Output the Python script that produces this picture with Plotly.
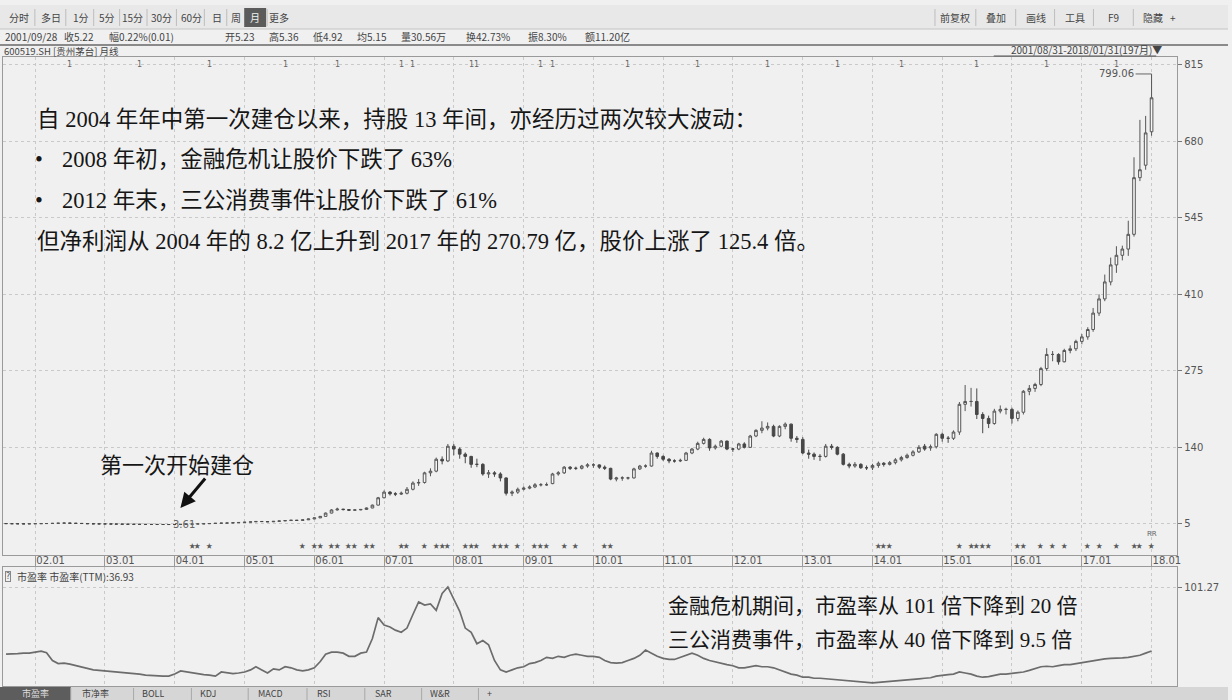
import pandas as pd
import plotly.graph_objects as go

W, H = 1232, 700

# ---- monthly bars of 600519.SH (forward adjusted), 2001-08 .. 2018-01
months = pd.date_range("2001-08-01", "2018-01-01", freq="MS")

opens = [
    5.60, 5.23, 5.20, 5.05, 4.92,
    5.10, 5.30, 5.45, 5.60, 5.90, 6.20, 6.45, 6.10, 5.80, 5.55, 5.20, 4.95,
    4.90, 4.80, 4.70, 4.55, 4.40, 4.30, 4.20, 4.10, 4.00, 3.95, 3.90, 3.85,
    3.80, 3.80, 4.10, 4.40, 4.70, 4.90, 5.20, 5.60, 6.00, 6.30, 6.50, 7.00,
    7.40, 7.90, 8.50, 9.20, 9.00, 8.60, 9.40, 10.1, 10.8, 11.4, 11.0, 12.1,
    13.6, 15.5, 18.2, 24.0, 29.5, 31.0, 30.2, 29.0, 29.6, 30.4, 33.0, 38.0,
    51, 61, 58, 57.5, 59, 66, 77, 78, 95, 98, 119, 116,
    142, 137, 128, 124, 110, 110, 93, 95, 93, 86, 59, 61,
    66, 68, 70, 74, 74, 76, 93, 95, 105, 103, 103, 107,
    109, 109, 105, 103, 84, 86, 86, 86, 102, 107, 107, 130,
    124, 119, 116, 116, 117, 130, 137, 147, 154, 139, 142, 151,
    137, 137, 146, 140, 160, 170, 174, 177, 160, 177, 181, 156,
    154, 130, 128, 124, 124, 142, 140, 128, 110, 107, 110, 104,
    104, 108, 112, 110, 113, 118, 122, 126, 132, 142, 139, 141,
    163, 156, 156, 167, 216, 221, 221, 198, 191, 182, 204, 207,
    207, 191, 202, 239, 244, 251, 279, 304, 304, 291, 311, 314,
    327, 335, 348, 377, 402, 432, 462, 479, 490, 516, 616, 638,
    697,
]
highs = [
    5.90, 5.36, 5.30, 5.10, 5.20,
    5.40, 5.60, 5.75, 6.00, 6.35, 6.70, 6.50, 6.20, 5.85, 5.60, 5.25, 5.05,
    5.00, 4.90, 4.80, 4.65, 4.50, 4.40, 4.30, 4.20, 4.10, 4.05, 4.00, 3.95,
    3.95, 4.20, 4.55, 4.85, 5.05, 5.35, 5.75, 6.15, 6.50, 6.70, 7.20, 7.60,
    8.10, 8.70, 9.50, 9.40, 9.10, 9.60, 10.3, 11.0, 11.7, 11.6, 12.3, 13.9,
    16.0, 18.8, 25.0, 31.0, 33.5, 31.5, 30.8, 30.5, 31.2, 33.8, 39.0, 52.5,
    64, 63, 61, 62, 70, 80, 84, 97, 103, 122, 124, 146,
    146, 140, 131, 125, 120, 112, 100, 98, 96, 87, 64, 69,
    71, 73, 77, 77, 78, 95, 98, 107, 107, 106, 109, 112,
    112, 110, 108, 104, 88, 89, 88, 104, 109, 110, 134, 131,
    126, 121, 119, 120, 132, 139, 150, 157, 156, 145, 153, 152,
    139, 148, 149, 162, 172, 186, 184, 180, 179, 184, 182, 160,
    158, 136, 131, 128, 146, 146, 142, 130, 113, 114, 112, 108,
    111, 115, 114, 116, 121, 125, 129, 135, 144, 146, 145, 165,
    166, 160, 170, 220, 250, 245, 244, 202, 196, 208, 214, 210,
    210, 205, 241, 250, 254, 282, 315, 310, 306, 314, 320, 330,
    340, 352, 386, 410, 445, 475, 495, 496, 540, 652, 718, 725,
    799.06,
]
lows = [
    5.20, 4.92, 4.95, 4.80, 4.85,
    5.00, 5.20, 5.35, 5.50, 5.80, 6.05, 6.00, 5.70, 5.40, 5.10, 4.85, 4.80,
    4.70, 4.60, 4.45, 4.30, 4.20, 4.10, 4.00, 3.90, 3.85, 3.80, 3.75, 3.70,
    3.61, 3.75, 4.00, 4.30, 4.60, 4.80, 5.10, 5.50, 5.90, 6.20, 6.40, 6.90,
    7.30, 7.80, 8.40, 8.80, 8.40, 8.50, 9.30, 10.0, 10.7, 10.8, 10.9, 12.0,
    13.4, 15.2, 18.0, 23.5, 28.5, 28.6, 27.8, 28.4, 29.0, 30.0, 32.5, 37.5,
    50, 55, 54, 56, 57, 64, 72, 76, 89, 96, 110, 114,
    126, 120, 112, 104, 105, 90, 86, 88, 80, 55, 54, 58,
    64, 66, 68, 71, 72, 75, 90, 93, 100, 100, 101, 104,
    104, 102, 100, 82, 80, 81, 83, 85, 100, 104, 106, 120,
    116, 112, 113, 114, 116, 128, 135, 145, 134, 136, 140, 135,
    132, 135, 138, 139, 158, 165, 170, 158, 158, 172, 150, 148,
    128, 120, 118, 116, 122, 136, 126, 108, 103, 104, 102, 100,
    100, 104, 106, 108, 110, 115, 120, 124, 130, 134, 134, 138,
    150, 148, 153, 162, 204, 212, 190, 165, 174, 180, 200, 198,
    182, 186, 198, 232, 238, 248, 275, 292, 286, 290, 306, 310,
    322, 330, 344, 372, 398, 426, 448, 470, 478, 512, 610, 630,
    690,
]
closes = [
    5.35, 5.22, 5.05, 4.90, 5.10,
    5.30, 5.45, 5.60, 5.90, 6.20, 6.45, 6.10, 5.80, 5.55, 5.20, 4.95, 4.90,
    4.80, 4.70, 4.55, 4.40, 4.30, 4.20, 4.10, 4.00, 3.95, 3.90, 3.85, 3.80,
    3.80, 4.10, 4.40, 4.70, 4.90, 5.20, 5.60, 6.00, 6.30, 6.50, 7.00, 7.40,
    7.90, 8.50, 9.20, 9.00, 8.60, 9.40, 10.1, 10.8, 11.4, 11.0, 12.1, 13.6,
    15.5, 18.2, 24.0, 29.5, 31.0, 30.2, 29.0, 29.6, 30.4, 33.0, 38.0, 51.0,
    61, 58, 57.5, 59, 66, 77, 78, 95, 98, 119, 116, 142,
    137, 128, 124, 110, 110, 93, 95, 93, 86, 59, 61, 66,
    68, 70, 74, 74, 74, 93, 95, 105, 103, 103, 107, 109,
    109, 105, 103, 84, 86, 86, 86, 102, 107, 107, 130, 124,
    119, 116, 116, 117, 130, 137, 147, 154, 139, 142, 151, 137,
    137, 146, 140, 160, 170, 174, 177, 160, 177, 181, 156, 154,
    130, 128, 124, 124, 142, 140, 128, 110, 107, 110, 104, 104,
    108, 112, 110, 113, 118, 122, 126, 132, 140, 137, 141, 163,
    156, 156, 167, 216, 221, 221, 198, 191, 182, 204, 207, 207,
    191, 202, 239, 244, 251, 279, 304, 304, 291, 311, 314, 327,
    335, 348, 377, 402, 432, 462, 479, 490, 516, 616, 630, 695,
    757,
]

# 市盈率(TTM), same months
pe_ttm = [
    37, 36.93, 37.5, 38, 38,
    39, 40, 38.5, 31, 28, 28.5, 27.5, 26, 25, 23.5, 22, 21.5,
    21, 20.5, 20, 19.5, 19, 19, 18, 17, 16.5, 16, 16, 16,
    18, 21, 20, 19, 18, 17.5, 17, 16, 20, 19, 18.5, 19,
    20, 22, 25, 22, 19, 23, 22, 25, 24, 22, 21, 22,
    24, 30, 37, 39, 39, 38, 35, 35, 38, 39, 52, 72,
    65, 63, 60, 58, 62, 75, 87, 84, 85, 79, 95, 101.27,
    90, 78, 62, 58, 47, 50, 46, 31, 22, 20, 22, 24,
    25, 28, 29, 31, 34, 33, 35, 34, 36, 37, 36, 35,
    35, 34, 31, 29, 28.5, 29, 31, 33, 36, 41, 38, 35,
    33, 32, 32, 34, 36, 38, 36, 33, 31, 29.5, 28, 27,
    26, 24, 24, 25, 26, 25, 25, 24, 22, 20, 18, 17,
    15, 15, 14, 14, 13.5, 13, 12.5, 12, 11, 10.5, 10, 9.6,
    9.5, 10, 10.5, 11, 12, 12.4, 12.5, 13, 13.5, 14, 14.5, 16,
    17, 17.5, 18, 20, 19, 18, 16, 15, 15.5, 17, 18, 18,
    18.5, 19, 20, 21.5, 23, 25, 25.5, 25, 26, 27, 27, 28,
    29, 30, 31, 32, 32.5, 33, 33, 33.5, 34, 35, 36, 38,
    40,
]

price_ticks = [5, 140, 275, 410, 545, 680, 815]
pe_ticks = [101.27]
year_ticks = pd.date_range("2002-01-01", "2018-01-01", freq="YS")

# event markers drawn along the top ("1") and bottom (stars) of the price panel
info_months = ["2002-07", "2003-07", "2004-07", "2005-08", "2006-05", "2007-04", "2007-06",
               "2008-04", "2008-05", "2009-04", "2009-06", "2010-07", "2011-07", "2012-07",
               "2013-07", "2014-06", "2015-07", "2016-07", "2017-07"]
star_months = ["2004-04", "2004-05", "2004-07", "2005-11", "2006-01", "2006-02", "2006-04",
               "2006-05", "2006-07", "2006-08", "2006-10", "2006-11", "2007-04", "2007-05",
               "2007-08", "2007-10", "2007-11", "2007-12", "2008-03", "2008-04", "2008-05",
               "2008-08", "2008-09", "2008-10", "2008-12", "2009-03", "2009-04", "2009-05",
               "2009-08", "2009-10", "2010-03", "2010-04", "2014-02", "2014-03", "2014-04",
               "2015-04", "2015-06", "2015-07", "2015-08", "2015-09", "2016-02", "2016-03",
               "2016-06", "2016-08", "2016-10", "2017-02", "2017-04", "2017-07", "2017-10",
               "2017-11", "2018-01"]

toolbar_left = ["分时", "多日", "1分", "5分", "15分", "30分", "60分", "日", "周", "月", "更多"]
toolbar_right = ["前复权", "叠加", "画线", "工具", "F9", "隐藏"]
bottom_tabs = ["市盈率", "市净率", "BOLL", "KDJ", "MACD", "RSI", "SAR", "W&R", "+"]

info_items = ["2001/09/28", "收5.22", "幅0.22%(0.01)", "开5.23", "高5.36", "低4.92", "均5.15",
              "量30.56万", "换42.73%", "振8.30%", "额11.20亿"]
notes_top = [
    "自 2004 年年中第一次建仓以来，持股 13 年间，亦经历过两次较大波动：",
    "2008 年初，金融危机让股价下跌了 63%",
    "2012 年末，三公消费事件让股价下跌了 61%",
    "但净利润从 2004 年的 8.2 亿上升到 2017 年的 270.79 亿，股价上涨了 125.4 倍。",
]
notes_pe = [
    "金融危机期间，市盈率从 101 倍下降到 20 倍",
    "三公消费事件，市盈率从 40 倍下降到 9.5 倍",
]


def px(x):
    return x / W


def py(y):
    return 1 - y / H


def note(x, y, text, size=10, color="#444444", family=None, **kw):
    # text placed in page pixels (from the top-left corner)
    font = dict(size=size, color=color)
    if family:
        font["family"] = family
    d = dict(x=px(x), y=py(y), xref="paper", yref="paper", text=text,
             showarrow=False, xanchor="left", yanchor="middle", font=font)
    d.update(kw)
    return d


UI_FONT = "Noto Sans CJK SC, Noto Sans, sans-serif"
NOTE_FONT = "Liberation Serif, Noto Sans CJK SC, serif"
NUM_FONT = "DejaVu Sans, sans-serif"
GRID = dict(showgrid=True, gridcolor="#c9c9c9", griddash="dot", gridwidth=1)
LINE = "#9a9a9a"

fig = go.Figure()

fig.add_trace(go.Candlestick(
    x=months, open=opens, high=highs, low=lows, close=closes,
    xaxis="x", yaxis="y",
    increasing=dict(line=dict(color="#555555", width=1), fillcolor="#f7f7f7"),
    decreasing=dict(line=dict(color="#474747", width=1), fillcolor="#474747"),
    whiskerwidth=0, showlegend=False, hoverinfo="skip",
))

fig.add_trace(go.Scatter(
    x=months, y=pe_ttm, mode="lines", xaxis="x2", yaxis="y2",
    line=dict(color="#6c6c6c", width=1.7), showlegend=False, hoverinfo="skip",
))

x_range = ["2001-07-16", "2018-05-15"]

fig.update_layout(
    width=W, height=H,
    margin=dict(l=0, r=0, t=0, b=0),
    paper_bgcolor="#f0f0f0", plot_bgcolor="#f0f0f0",
    font=dict(family=UI_FONT, size=10, color="#444444"),
    showlegend=False,
    xaxis=dict(
        domain=[px(3), px(1181)], anchor="y", type="date", range=x_range,
        tickvals=year_ticks, tickformat="%y.%m",
        ticks="outside", ticklen=12, tickcolor=LINE, ticklabelstandoff=-4,
        ticklabelposition="outside right",
        tickfont=dict(family=NUM_FONT, size=10, color="#555555"),
        showline=True, linecolor=LINE, mirror=True, zeroline=False,
        rangeslider=dict(visible=False), **GRID,
    ),
    yaxis=dict(
        domain=[py(555), py(57)], anchor="x", side="right", range=[-50, 829],
        tickvals=price_ticks, ticks="outside", ticklen=4, tickcolor="#777777",
        tickfont=dict(family=NUM_FONT, size=10, color="#555555"),
        showline=True, linecolor=LINE, mirror=True, zeroline=False, **GRID,
    ),
    xaxis2=dict(
        domain=[px(3), px(1181)], anchor="y2", type="date", range=x_range, matches="x",
        tickvals=year_ticks, showticklabels=False, ticks="",
        showline=True, linecolor=LINE, mirror=True, zeroline=False, **GRID,
    ),
    yaxis2=dict(
        domain=[py(686), py(567)], anchor="x2", side="right", range=[6.6, 120.4],
        tickvals=pe_ticks, ticktext=["101.27"], ticks="outside", ticklen=4, tickcolor="#777777",
        tickfont=dict(family=NUM_FONT, size=10, color="#555555"),
        showline=True, linecolor=LINE, mirror=True, zeroline=False, **GRID,
    ),
)

shapes = []
ann = []


def hline(y, x0, x1, color, width=1):
    shapes.append(dict(type="line", xref="paper", yref="paper", x0=px(x0), x1=px(x1),
                       y0=py(y), y1=py(y), line=dict(color=color, width=width)))


def vline(x, y0, y1, color, width=1):
    shapes.append(dict(type="line", xref="paper", yref="paper", x0=px(x), x1=px(x),
                       y0=py(y0), y1=py(y1), line=dict(color=color, width=width)))


def rect(x0, y0, x1, y1, fill, layer="below"):
    shapes.append(dict(type="rect", xref="paper", yref="paper", x0=px(x0), x1=px(x1),
                       y0=py(y1), y1=py(y0), line=dict(width=0), fillcolor=fill,
                       layer=layer))


# ---- top toolbar
rect(0, 5, W, 29, "#e8e8e8")
hline(29, 0, W, "#c4c4c4")
hline(45, 0, W, "#8a8a8a", 2)
left_centers = [19, 51, 81, 107, 133, 162, 192, 218, 237, 256, 280]
for i, (label, cx) in enumerate(zip(toolbar_left, left_centers)):
    if label == "月":
        rect(cx - 11, 8, cx + 11, 27, "#5b5b5b", layer="above")
    ann.append(note(cx, 18, label, color="#f2f2f2" if label == "月" else "#444444",
                    xanchor="center"))
    if i < len(toolbar_left) - 1:
        vline((cx + left_centers[i + 1]) / 2, 26, 9, "#bdbdbd")
right_centers = [958, 999, 1039, 1078, 1117, 1157]
for label, cx in zip(toolbar_right, right_centers):
    ann.append(note(cx, 18, label, xanchor="center"))
    vline(cx - 20, 26, 9, "#bdbdbd")
ann.append(note(1172, 18, "+"))

info_x = [3, 62, 107, 224, 268, 312, 356, 400, 466, 528, 585]
for x0, item in zip(info_x, info_items):
    ann.append(note(x0, 37, item, size=10))
ann.append(note(2, 51, "600519.SH [贵州茅台] 月线", size=9.5))
ann.append(note(1168, 50, "2001/08/31-2018/01/31(197月)▼", xanchor="right"))
hline(56, 997, 1160, "#555555")

# ---- markers along the price panel
for m in info_months:
    ann.append(dict(x=m + "-01", y=0.997, xref="x", yref="y domain", text="1", showarrow=False,
                    yanchor="top", font=dict(family=NUM_FONT, size=8, color="#666666")))
for m in star_months:
    ann.append(dict(x=m + "-01", y=0.006, xref="x", yref="y domain", text="★", showarrow=False,
                    yanchor="bottom", font=dict(size=6.5, color="#5a5a5a")))
ann.append(dict(x=star_months[-1] + "-01", y=0.03, xref="x", yref="y domain", text="RR",
                showarrow=False, yanchor="bottom",
                font=dict(family=NUM_FONT, size=7, color="#666666")))

# min / max labels from the data
i_lo = lows.index(min(lows))
i_hi = highs.index(max(highs))
ann.append(dict(x=months[i_lo], y=lows[i_lo], xref="x", yref="y", text=f"{lows[i_lo]:.2f}",
                showarrow=False, xanchor="left", yanchor="middle", xshift=-4,
                font=dict(family=NUM_FONT, size=10, color="#666666")))
ann.append(dict(x=months[i_hi], y=highs[i_hi], xref="x", yref="y", text=f"{highs[i_hi]:.2f}",
                showarrow=True, arrowhead=0, arrowwidth=1, arrowcolor="#666666",
                ax=-16, ay=0, xanchor="right",
                font=dict(family=NUM_FONT, size=10, color="#555555")))

# ---- commentary text
INK = "#161616"
BIG = 22.5
ann.append(note(35, 119, notes_top[0], size=BIG, color=INK, family=NOTE_FONT))
for yy, txt in [(160, notes_top[1]), (200, notes_top[2])]:
    ann.append(note(33, yy, "•", size=BIG, color=INK, family=NOTE_FONT))
    ann.append(note(60, yy, txt, size=BIG, color=INK, family=NOTE_FONT))
ann.append(note(35, 241, notes_top[3], size=BIG, color=INK, family=NOTE_FONT))

ann.append(note(178, 465, "第一次开始建仓", size=22, color=INK, family=NOTE_FONT,
                xanchor="center"))
ann.append(dict(x=px(181), y=py(508), xref="paper", yref="paper", text="", showarrow=True,
                arrowhead=2, arrowsize=1, arrowwidth=3, arrowcolor="#111111", ax=26, ay=-31))

for yy, txt in [(606, notes_pe[0]), (640, notes_pe[1])]:
    ann.append(note(668, yy, txt, size=21, color=INK, family=NOTE_FONT))

# ---- lower panel title
ann.append(note(8, 576, "?", size=8, color="#555555", family=NUM_FONT, xanchor="center",
                bordercolor="#888888", borderwidth=1, borderpad=0))
ann.append(note(15, 576, "市盈率 市盈率(TTM):36.93"))

# ---- bottom tabs
rect(0, 687, W, H, "#d6d6d6")
rect(0, 687, 71, H, "#5d5d5d", layer="above")
tab_centers = [36, 96, 153, 209, 271, 325, 385, 441, 491]
tab_seps = [71, 134, 192, 249, 308, 366, 423, 480]
for i, (label, cx) in enumerate(zip(bottom_tabs, tab_centers)):
    ann.append(note(cx, 693, label, size=9, color="#dddddd" if i == 0 else "#444444",
                    xanchor="center", height=12))
for sx in tab_seps:
    vline(sx, H, 688, "#a8a8a8")

fig.update_layout(shapes=shapes, annotations=ann)

fig.write_html(
    "out.html",
    config={"displayModeBar": False},
    post_script="document.body.style.margin='0px';document.body.style.overflow='hidden';",
)
